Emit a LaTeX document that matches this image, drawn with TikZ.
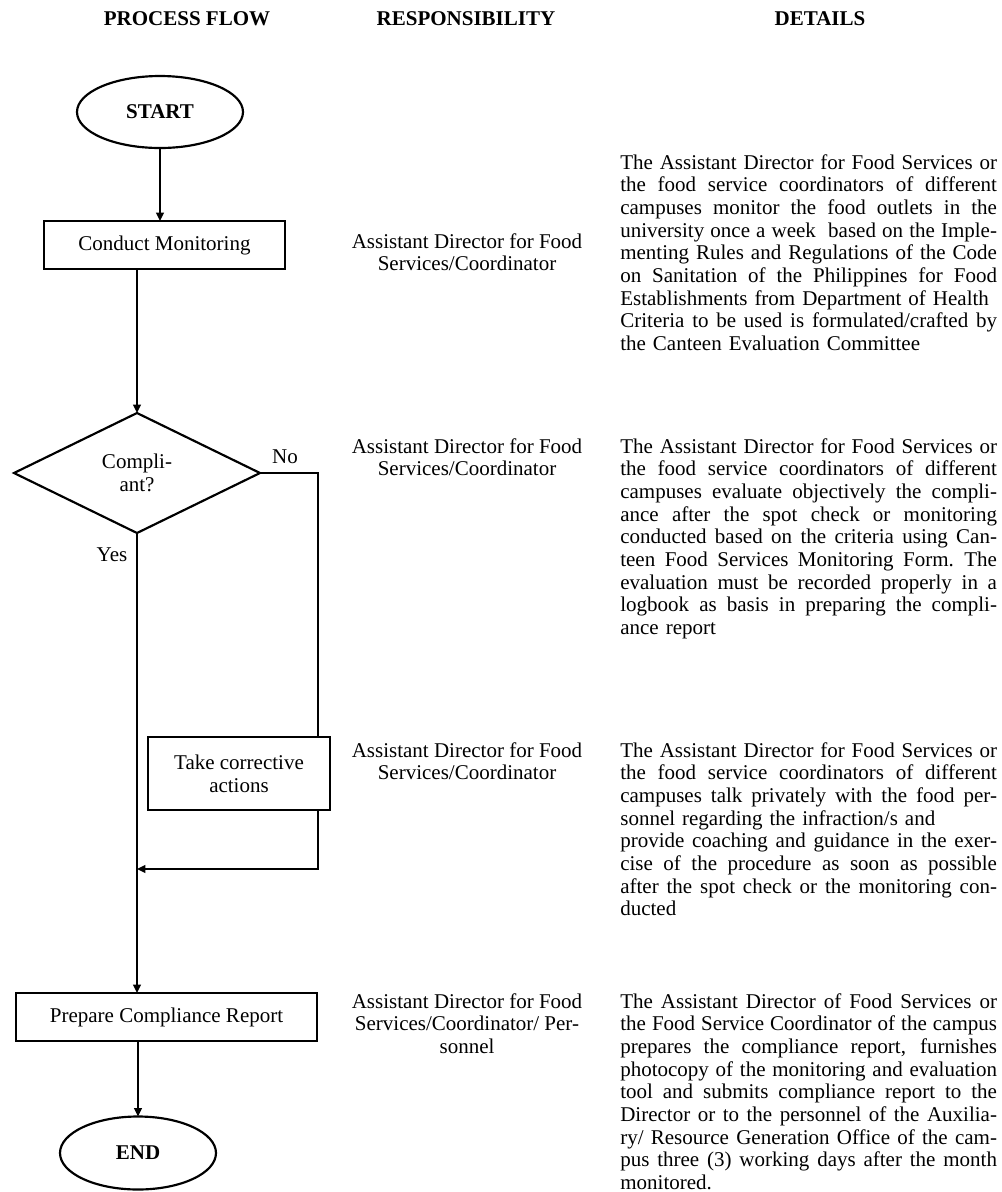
\documentclass[tikz,border=0pt]{standalone}
\usepackage{fontspec}
\setmainfont{Liberation Serif}
\usepackage{xcolor}
\definecolor{cInk}{HTML}{000000}
\usepackage{tikz}
\usetikzlibrary{positioning,arrows.meta,shapes.geometric,calc}
\newcommand{\fs}{\fontsize{12.6}{13.6}\selectfont}
\newcommand{\detw}{226pt}
% one justified line of the details column
\newcommand{\jl}[1]{\leavevmode\hbox to \detw{\spaceskip=.25em plus 1fil minus .1em\relax #1}}
\tikzset{
  node-box/.style={draw=cInk,line width=1.3pt,fill=white,align=center,
    inner sep=0pt,outer sep=0pt,font=\fs},
  node-term/.style={draw=cInk,line width=1.3pt,ellipse,inner sep=0pt,
    outer sep=0pt,font=\fs\bfseries},
  node-decision/.style={draw=cInk,line width=1.3pt,diamond,inner sep=0pt,
    outer sep=0pt,align=center,font=\fs},
  node-head/.style={font=\fs\bfseries,inner sep=0pt},
  node-label/.style={font=\fs,inner sep=0pt},
  node-resp/.style={align=center,font=\fs,anchor=north,inner sep=0pt},
  node-detail/.style={text width=\detw,align=left,font=\fs,
    anchor=north west,inner sep=0pt},
  arrow/.style={-{Triangle[length=5pt,width=4.5pt]},line width=1.3pt,draw=cInk},
  link/.style={line width=1.3pt,draw=cInk},
}

\begin{document}
\begin{tikzpicture}[x=0.6pt,y=-0.6pt]
  \useasboundingbox (0,0) rectangle (1002,1192);
  % column heads
  \node[node-head] (hFlow) at (187,19) {PROCESS FLOW};
  \node[node-head] (hResp) at (466,19) {RESPONSIBILITY};
  \node[node-head] (hDet)  at (820,19) {DETAILS};

  % process flow
  \node[node-term,minimum width=99.6pt,minimum height=43.2pt] (start) at (160,112) {START};
  \node[node-box,minimum width=144.6pt,minimum height=28.8pt] (conduct) at (164.5,245) {Conduct Monitoring};
  \node[node-decision,minimum width=147.6pt,minimum height=72pt] (comp) at (137,473) {Compli-\\ant?};
  \node[node-box,minimum width=109.2pt,minimum height=43.8pt] (fix) at (239,773.5) {Take corrective\\actions};
  \node[node-box,minimum width=180.6pt,minimum height=28.8pt] (prep) at (166.5,1017) {Prepare Compliance Report};
  \node[node-term,minimum width=93.6pt,minimum height=43.8pt] (end) at (138,1153) {END};
  \coordinate (noR) at (318,473);
  \coordinate (merge) at (137,869);

  \draw[arrow] (start.south) -- (start.south |- conduct.north);
  \draw[arrow] (conduct.south -| comp.north) -- (comp.north);
  \draw[arrow] (comp.south) -- (comp.south |- prep.north);
  \draw[link] (comp.east) -- (noR) -- (noR |- fix.north);
  \draw[arrow] (noR |- fix.south) -- (noR |- merge) -- (merge);
  \draw[arrow] (prep.south -| end.north) -- (end.north);
  \node[node-label] (lblNo) at (285,457) {No};
  \node[node-label] (lblYes) at (112,555) {Yes};

  % responsibility
  \node[node-resp] (resp1) at (467,233) {Assistant Director for Food\\Services/Coordinator};
  \node[node-resp] (resp2) at (467,438) {Assistant Director for Food\\Services/Coordinator};
  \node[node-resp] (resp3) at (467,742) {Assistant Director for Food\\Services/Coordinator};
  \node[node-resp] (resp4) at (467,993) {Assistant Director for Food\\Services/Coordinator/ Per-\\sonnel};

  % details
  \node[node-detail] (det1) at (620,154) {%
    \jl{The Assistant Director for Food Services or}\\
    \jl{the food service coordinators of different}\\
    \jl{campuses monitor the food outlets in the}\\
    \jl{university once a week \ based on the Imple-}\\
    \jl{menting Rules and Regulations of the Code}\\
    \jl{on Sanitation of the Philippines for Food}\\
    Establishments from Department of Health\\
    \jl{Criteria to be used is formulated/crafted by}\\
    the Canteen Evaluation Committee};
  \node[node-detail] (det2) at (620,438) {%
    \jl{The Assistant Director for Food Services or}\\
    \jl{the food service coordinators of different}\\
    \jl{campuses evaluate objectively the compli-}\\
    \jl{ance after the spot check or monitoring}\\
    \jl{conducted based on the criteria using Can-}\\
    \jl{teen Food Services Monitoring Form. The}\\
    \jl{evaluation must be recorded properly in a}\\
    \jl{logbook as basis in preparing the compli-}\\
    ance report};
  \node[node-detail] (det3) at (620,742) {%
    \jl{The Assistant Director for Food Services or}\\
    \jl{the food service coordinators of different}\\
    \jl{campuses talk privately with the food per-}\\
    sonnel regarding the infraction/s and\\
    \jl{provide coaching and guidance in the exer-}\\
    \jl{cise of the procedure as soon as possible}\\
    \jl{after the spot check or the monitoring con-}\\
    ducted};
  \node[node-detail] (det4) at (620,993) {%
    \jl{The Assistant Director of Food Services or}\\
    \jl{the Food Service Coordinator of the campus}\\
    \jl{prepares the compliance report, furnishes}\\
    \jl{photocopy of the monitoring and evaluation}\\
    \jl{tool and submits compliance report to the}\\
    \jl{Director or to the personnel of the Auxilia-}\\
    \jl{ry/ Resource Generation Office of the cam-}\\
    \jl{pus three (3) working days after the month}\\
    monitored.};
\end{tikzpicture}
\end{document}
